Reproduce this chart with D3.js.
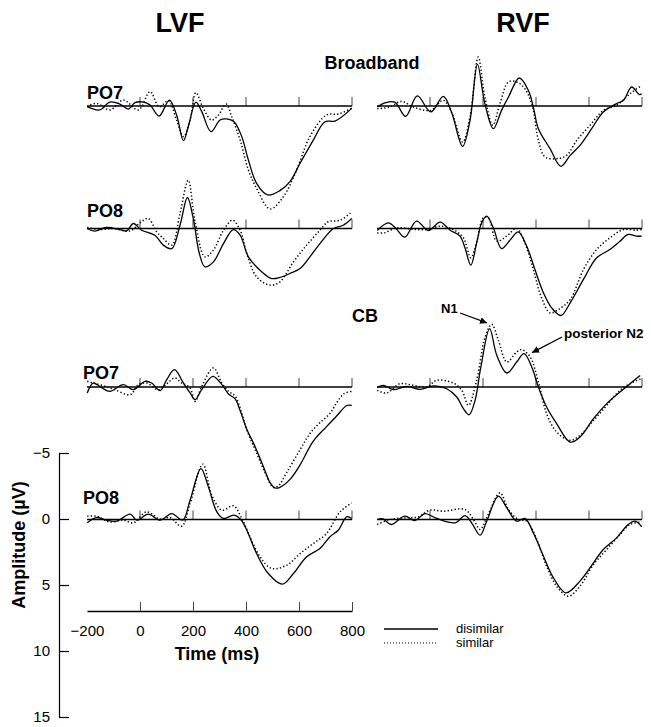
<!DOCTYPE html>
<html>
<head>
<meta charset="utf-8">
<script src="https://cdn.jsdelivr.net/npm/d3@7"></script>
<style>
  body { margin: 0; background: #fff; }
  text { font-family: "Liberation Sans", Arial, sans-serif; fill: #000; }
</style>
</head>
<body>
<div id="chart"></div>
<script>
// 파형 데이터: [시간(ms), 진폭(µV)], 음수가 위쪽
// Broadband, PO7
const bbPO7_LVF_dis = [[-199,0.05],[-152,0.3],[-114,-0.3],[-76,-0.15],[-44,0.23],[-19,-0.25],[13,-0.3],[38,-0.08],[72,0.76],[111,-0.45],[138,0.68],[164,2.63],[182,1.57],[211,-0.3],[233,0.43],[268,1.94],[302,1.06],[327,0.98],[355,1.19],[384,2.32],[409,4.09],[440,5.86],[482,6.74],[528,6.41],[566,5.73],[604,4.34],[654,2.58],[698,1.19],[736,1.14],[799,0.18]];
const bbPO7_LVF_sim = [[-199,0.05],[-165,-0.2],[-114,0.3],[-63,-0.45],[-6,0.3],[38,-1.09],[72,0.05],[107,-0.4],[138,1.06],[164,2.32],[189,1.06],[211,-1.01],[239,0.18],[270,1.06],[296,0.68],[325,-0.15],[346,0.81],[378,2.58],[409,4.85],[440,6.24],[491,7.8],[541,6.87],[591,4.85],[641,2.32],[704,0.68],[748,0.61],[799,0.18]];
const bbPO7_RVF_dis = [[-199,0.08],[-171,-0.23],[-133,-0.3],[-92,0.78],[-48,-0.76],[3,0.45],[50,-0.73],[81,0.45],[123,3.06],[151,1.09],[179,-3.16],[207,-0.18],[239,1.72],[270,0.33],[296,-0.68],[337,-2.12],[371,-1.19],[390,0.08],[409,1.72],[453,3.23],[494,4.57],[529,3.74],[566,2.98],[610,1.72],[654,0.45],[704,-0.18],[730,-0.43],[761,-1.44],[790,-0.86],[799,-0.93]];
const bbPO7_RVF_sim = [[-199,0.2],[-152,0.08],[-108,-0.35],[-63,0.08],[3,0.33],[50,-0.43],[81,0.45],[123,2.73],[151,0.83],[182,-3.71],[207,-0.68],[237,1.46],[264,-0.18],[296,-1.82],[327,-1.82],[358,-1.31],[387,0.08],[409,2.6],[434,3.86],[478,3.99],[516,3.74],[554,2.6],[604,1.46],[654,0.33],[704,-0.05],[755,-0.93],[799,-1.57]];
// Broadband, PO8
const bbPO8_LVF_dis = [[-199,0],[-171,0.2],[-127,-0.08],[-76,0.08],[-50,0.18],[-25,-0.38],[6,0.13],[56,0.51],[88,1.26],[120,1.52],[151,-0.25],[179,-2.35],[201,-0.76],[224,1.89],[245,2.9],[277,2.53],[315,1.14],[352,0.08],[378,0.51],[409,2.15],[453,3.16],[497,3.79],[528,3.71],[566,3.41],[604,3.03],[641,2.15],[679,1.14],[730,0],[767,-0.25],[799,-0.76]];
const bbPO8_LVF_sim = [[-199,-0.08],[-152,0.08],[-101,0],[-37,0.18],[0,-0.43],[31,-0.76],[63,0.25],[88,0.76],[120,1.26],[151,-1.14],[182,-3.66],[207,-0.63],[245,2.15],[277,1.64],[315,0.13],[349,-0.63],[378,0.13],[403,1.89],[440,3.66],[491,4.29],[528,4.04],[579,2.53],[629,1.26],[679,0.13],[710,-0.51],[755,-0.63],[799,-1.26]];
const bbPO8_RVF_dis = [[-199,0.15],[-157,-0.43],[-127,0.03],[-95,0.66],[-51,-0.56],[-6,0.15],[38,-0.48],[76,0.13],[113,0.58],[132,1.46],[154,2.78],[176,1.09],[195,-0.43],[214,-0.93],[239,-0.05],[270,1.52],[302,0.88],[333,0.25],[365,1.34],[396,3.11],[428,4.87],[459,6.01],[494,6.59],[529,5.63],[579,3.86],[629,2.22],[679,1.59],[717,0.96],[748,0.45],[780,0.58],[799,0.58]];
const bbPO8_RVF_sim = [[-199,0.33],[-171,0.33],[-127,-0.05],[-51,0.08],[-6,0.08],[38,-0.18],[88,0.08],[126,0.71],[154,2.22],[179,0.83],[201,-0.81],[220,-0.81],[252,0.96],[289,0.58],[327,0],[358,1.09],[390,3.11],[421,5.25],[453,6.39],[484,6.14],[529,5.38],[579,3.11],[629,1.59],[679,0.71],[730,0.08],[780,0.13],[799,0.08]];
// CB, PO7
const cbPO7_LVF_dis = [[-199,0.45],[-177,-0.3],[-152,-0.05],[-114,0.33],[-63,-0.18],[-25,0.2],[19,-0.43],[44,-0.3],[76,0.28],[101,-0.56],[130,-1.31],[164,-0.3],[189,0.45],[208,0.96],[233,0.2],[275,-0.81],[309,-0.18],[334,0.53],[359,0.9],[378,1.8],[403,3.2],[434,4.5],[465,6.0],[491,7.25],[509,7.65],[528,7.6],[566,7.0],[604,5.9],[654,4.1],[704,3.0],[742,2.2],[780,1.4],[799,1.4]];
const cbPO7_LVF_sim = [[-199,-0.43],[-177,-0.3],[-139,-0.1],[-101,0.15],[-37,0.58],[-6,-0.18],[25,-0.3],[69,0.2],[101,-0.25],[132,-0.68],[157,-0.3],[189,0.08],[208,1.09],[233,-0.05],[277,-1.44],[309,-0.3],[334,0.33],[359,0.7],[384,2.0],[402,3.2],[440,5.0],[472,6.5],[503,7.6],[522,7.5],[553,6.5],[604,4.75],[642,3.5],[679,2.7],[717,2.0],[742,1.2],[770,0.5],[799,0.33]];
const cbPO7_RVF_dis = [[-199,0.05],[-176,-0.13],[-139,0.2],[-88,-0.05],[-37,0.18],[13,-0.08],[63,0.13],[101,0.76],[126,1.64],[148,2.1],[170,1.01],[192,-1.52],[225,-4.42],[252,-2.4],[290,-1.06],[327,-1.89],[355,-2.53],[384,-1.52],[409,0],[440,1.52],[478,2.78],[529,4.17],[566,3.79],[617,2.4],[667,1.26],[717,0.38],[755,-0.25],[793,-0.88]];
const cbPO7_RVF_sim = [[-199,0.25],[-163,0.45],[-114,-0.25],[-63,-0.13],[-12,0],[25,-0.51],[88,-0.3],[120,0.25],[145,1.39],[176,-0.51],[208,-3.79],[233,-4.75],[258,-3.54],[290,-1.89],[327,-2.65],[346,-2.83],[378,-2.27],[409,-0.38],[440,2.02],[478,3.41],[529,4.04],[566,3.66],[617,2.53],[667,1.39],[717,0.25],[767,-0.38],[799,-0.63]];
// CB, PO8
const cbPO8_LVF_dis = [[-199,0.25],[-165,-0.15],[-127,0.05],[-89,0.13],[-37,-0.4],[-12,0.05],[31,-0.4],[76,0.05],[120,-0.45],[161,0.05],[189,-1.46],[230,-3.86],[258,-2.47],[290,-0.58],[315,-0.08],[355,-0.33],[380,0],[403,0.81],[440,2.58],[484,4.09],[537,4.9],[579,4.09],[629,2.83],[679,2.2],[717,1.31],[748,0.81],[780,-0.2],[799,-0.08]];
const cbPO8_LVF_sim = [[-199,-0.25],[-165,-0.25],[-114,0.18],[-63,0.05],[-25,0.25],[25,-0.58],[76,-0.03],[113,-0.15],[157,0.51],[189,-1.21],[237,-4.19],[271,-1.84],[309,-0.71],[352,-1.04],[384,-0.08],[415,1.31],[453,2.83],[497,3.71],[554,3.46],[604,2.58],[654,1.82],[704,1.06],[755,-0.58],[799,-1.26]];
const cbPO8_RVF_dis = [[-199,0],[-177,-0.05],[-147,0.38],[-95,-0.25],[-57,0.08],[-19,-0.45],[25,-0.08],[95,0.25],[132,-0.3],[157,0.25],[189,1.19],[214,0.13],[258,-1.77],[290,-0.88],[327,0.13],[358,-0.08],[390,1.01],[428,2.78],[466,4.42],[513,5.56],[566,4.67],[617,3.28],[654,2.27],[704,1.39],[748,0.38],[774,0.13],[799,0.56]];
const cbPO8_RVF_sim = [[-199,0.38],[-152,0],[-89,-0.13],[-44,-0.2],[0,-0.71],[50,-0.63],[132,-0.76],[164,0],[189,0.76],[214,-0.13],[264,-2.02],[296,-0.76],[333,0],[365,0.13],[403,1.52],[440,3.54],[478,5.05],[522,5.81],[566,5.05],[617,3.41],[667,2.27],[717,1.14],[755,0.38],[799,0.2]];

const timeTicks = [-200, 0, 200, 400, 600, 800];
const ampTicks = [-5, 0, 5, 10, 15];
const columnNames = ["LVF", "RVF"];
const conditionNames = ["disimilar", "similar"];

// 레이아웃
var svg = d3.select("#chart").append("svg")
    .attr("width", 651)
    .attr("height", 727);

var pxPerUV = 13.2;
var colLeft = [87, 377];
var panelW = 265;

var panels = [
  { name: "PO7", base: 106,   labelX: 87, labelY: 99,  series: [[bbPO7_LVF_dis, bbPO7_LVF_sim], [bbPO7_RVF_dis, bbPO7_RVF_sim]] },
  { name: "PO8", base: 228.5, labelX: 87, labelY: 217, series: [[bbPO8_LVF_dis, bbPO8_LVF_sim], [bbPO8_RVF_dis, bbPO8_RVF_sim]] },
  { name: "PO7", base: 387,   labelX: 83, labelY: 379, series: [[cbPO7_LVF_dis, cbPO7_LVF_sim], [cbPO7_RVF_dis, cbPO7_RVF_sim]] },
  { name: "PO8", base: 519.5, labelX: 83, labelY: 504, series: [[cbPO8_LVF_dis, cbPO8_LVF_sim], [cbPO8_RVF_dis, cbPO8_RVF_sim]] }
];

var styles = [
  { width: 1.3, dash: null },
  { width: 1.5, dash: "1.3,2.2" }
];

var xScales = colLeft.map(function(x0) {
  return d3.scaleLinear().domain([-200, 800]).range([x0, x0 + panelW]);
});

// 패널 그리기
panels.forEach(function(p) {
  var y = d3.scaleLinear().domain([0, 1]).range([p.base, p.base + pxPerUV]);

  svg.append("text")
      .attr("x", p.labelX).attr("y", p.labelY)
      .style("font-size", "18px").style("font-weight", "bold")
      .text(p.name);

  xScales.forEach(function(x, c) {
    var g = svg.append("g");

    // 눈금
    g.selectAll("line.tick")
      .data(timeTicks.slice(1))
      .enter().append("line")
      .attr("x1", function(d) { return x(d); })
      .attr("x2", function(d) { return x(d); })
      .attr("y1", y(0)).attr("y2", y(0) - 9)
      .attr("stroke", "#444").attr("stroke-width", 1);

    // 기준선
    g.append("line")
      .attr("x1", x(-200)).attr("x2", x(800))
      .attr("y1", y(0)).attr("y2", y(0))
      .attr("stroke", "#000").attr("stroke-width", 1.6);

    var line = d3.line()
      .x(function(d) { return x(d[0]); })
      .y(function(d) { return y(d[1]); })
      .curve(d3.curveCatmullRom.alpha(0.5));

    p.series[c].forEach(function(data, i) {
      g.append("path")
        .datum(data)
        .attr("d", line)
        .attr("fill", "none")
        .attr("stroke", "#000")
        .attr("stroke-width", styles[i].width)
        .attr("stroke-dasharray", styles[i].dash);
    });
  });
});

// 열 제목
svg.selectAll("text.col")
  .data(columnNames)
  .enter().append("text")
  .attr("x", function(d, i) { return i === 0 ? 180 : 523; })
  .attr("y", 32)
  .attr("text-anchor", "middle")
  .style("font-size", "27px").style("font-weight", "bold")
  .text(function(d) { return d; });

svg.append("text").attr("x", 372).attr("y", 69).attr("text-anchor", "middle")
  .style("font-size", "18px").style("font-weight", "bold").text("Broadband");
svg.append("text").attr("x", 352).attr("y", 322)
  .style("font-size", "18px").style("font-weight", "bold").text("CB");

// 주석 (N1, posterior N2)
svg.append("defs").append("marker")
  .attr("id", "arrow")
  .attr("viewBox", "0 0 10 10")
  .attr("refX", 10).attr("refY", 5)
  .attr("markerWidth", 7).attr("markerHeight", 7)
  .attr("markerUnits", "userSpaceOnUse")
  .attr("orient", "auto")
  .append("path").attr("d", "M0,0L10,5L0,10z").attr("fill", "#000");

var xR = xScales[1];
var yCB7 = d3.scaleLinear().domain([0, 1]).range([panels[2].base, panels[2].base + pxPerUV]);

svg.append("text").attr("x", 441).attr("y", 313)
  .style("font-size", "13px").style("font-weight", "bold").text("N1");
svg.append("line")
  .attr("x1", 460).attr("y1", 313)
  .attr("x2", xR(215)).attr("y2", yCB7(-4.85))
  .attr("stroke", "#000").attr("stroke-width", 1.3)
  .attr("marker-end", "url(#arrow)");

svg.append("text").attr("x", 564).attr("y", 338)
  .style("font-size", "13.5px").style("font-weight", "bold").text("posterior N2");
svg.append("line")
  .attr("x1", 562).attr("y1", 337)
  .attr("x2", xR(385)).attr("y2", yCB7(-2.6))
  .attr("stroke", "#000").attr("stroke-width", 1.3)
  .attr("marker-end", "url(#arrow)");

// 진폭 축
var ampScale = d3.scaleLinear().domain([-5, 15]).range([453, 717]);
var ampAxis = d3.axisLeft(ampScale)
  .tickValues(ampTicks)
  .tickSizeInner(-10)
  .tickSizeOuter(0)
  .tickPadding(9);

var ga = svg.append("g")
  .attr("transform", "translate(59,0)")
  .call(ampAxis);
ga.select(".domain").attr("stroke", "#000").attr("stroke-width", 1.2);
ga.selectAll(".tick line").attr("stroke", "#000").attr("stroke-width", 1.2);
ga.selectAll(".tick text")
  .attr("x", -9)
  .style("font-family", "Liberation Sans, Arial, sans-serif")
  .style("font-size", "15px").attr("fill", "#000");

svg.append("text")
  .attr("transform", "translate(25,545) rotate(-90)")
  .attr("text-anchor", "middle")
  .style("font-size", "18px").style("font-weight", "bold")
  .text("Amplitude (µV)");

// 시간 축
var timeAxis = d3.axisBottom(xScales[0])
  .tickValues(timeTicks)
  .tickSizeInner(-9)
  .tickSizeOuter(0)
  .tickPadding(14);

var gt = svg.append("g")
  .attr("transform", "translate(0,611)")
  .call(timeAxis);
gt.select(".domain").attr("stroke", "#000").attr("stroke-width", 1.3);
gt.selectAll(".tick line").attr("stroke", "#444").attr("stroke-width", 1)
  .filter(function(d) { return d === -200; }).remove();
gt.selectAll(".tick text")
  .style("font-family", "Liberation Sans, Arial, sans-serif")
  .style("font-size", "15px").attr("fill", "#000");

svg.append("text")
  .attr("x", 217).attr("y", 660)
  .attr("text-anchor", "middle")
  .style("font-size", "18px").style("font-weight", "bold")
  .text("Time (ms)");

// 범례
var legend = svg.append("g");
conditionNames.forEach(function(name, i) {
  var ly = 629 + i * 14;
  legend.append("line")
    .attr("x1", 384).attr("x2", 438)
    .attr("y1", ly).attr("y2", ly)
    .attr("stroke", "#000")
    .attr("stroke-width", i === 0 ? 1.5 : 1)
    .attr("stroke-dasharray", i === 0 ? null : "1,2");
  legend.append("text")
    .attr("x", 456).attr("y", ly + 4)
    .style("font-size", "13px")
    .text(name);
});
</script>
</body>
</html>
